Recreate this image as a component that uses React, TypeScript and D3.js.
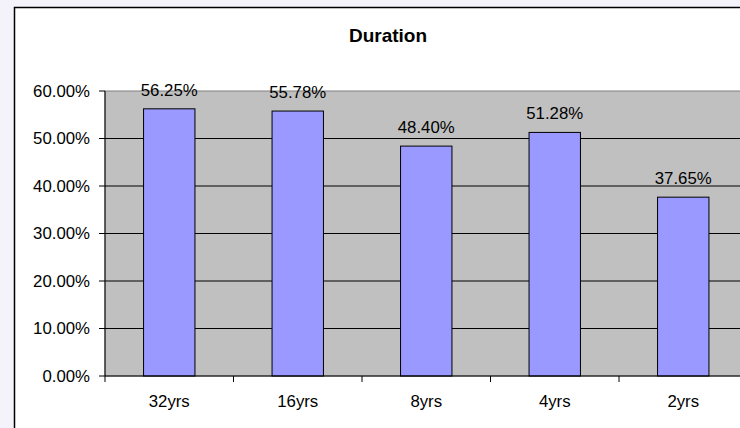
import React from "react";
import * as d3 from "d3";

const categories = ["32yrs", "16yrs", "8yrs", "4yrs", "2yrs"];
const values = [56.25, 55.78, 48.4, 51.28, 37.65];
const yTicks = [0, 10, 20, 30, 40, 50, 60];
const title = "Duration";

export default function App() {
  const W = 740, H = 428;
  const left = 105, top = 91, bottom = 376, right = 747.5;
  const x = d3.scaleBand<string>().domain(categories).range([left, right]).paddingInner(0).paddingOuter(0);
  const y = d3.scaleLinear().domain([0, 60]).range([bottom, top]);
  const barW = x.bandwidth() * 0.4;
  const font = "'Liberation Sans', Arial, sans-serif";
  const tickX = [...categories.map((c) => x(c)!), right];
  return (
    <svg width={W} height={H} style={{ position: "absolute", left: 0, top: 0 }} fontFamily={font}>
      <rect x={0} y={0} width={W} height={H} fill="#f4f3fb" />
      <rect x={14.5} y={7.5} width={W + 20} height={H + 20} fill="#ffffff" stroke="#000" strokeWidth={1.5} />
      <text x={388} y={42} textAnchor="middle" fontWeight="bold" fontSize={19}>{title}</text>
      <rect x={left} y={top} width={right - left} height={bottom - top} fill="#c0c0c0" stroke="#808080" strokeWidth={1} />
      {yTicks.map((t) => (
        <g key={t}>
          {t > 0 && t < 60 && (
            <line x1={left} x2={right} y1={y(t)} y2={y(t)} stroke="#000" strokeWidth={1} />
          )}
          <line x1={left - 6} x2={left} y1={y(t)} y2={y(t)} stroke="#000" strokeWidth={1} />
          <text x={90} y={y(t) + 5.5} textAnchor="end" fontSize={16.8}>{t.toFixed(2) + "%"}</text>
        </g>
      ))}
      {categories.map((c, i) => {
        const cx = x(c)! + x.bandwidth() / 2;
        return (
          <g key={c}>
            <rect x={cx - barW / 2} y={y(values[i])} width={barW} height={bottom - y(values[i])} fill="#9999ff" stroke="#000" strokeWidth={1} />
            <text x={cx} y={y(values[i]) - 13.3} textAnchor="middle" fontSize={16.8}>{values[i].toFixed(2) + "%"}</text>
            <text x={cx} y={407} textAnchor="middle" fontSize={16.8}>{c}</text>
          </g>
        );
      })}
      <line x1={left} x2={left} y1={top} y2={bottom} stroke="#000" strokeWidth={1} />
      <line x1={left} x2={right} y1={bottom} y2={bottom} stroke="#000" strokeWidth={1} />
      {tickX.map((tx, i) => (
        <line key={i} x1={tx} x2={tx} y1={bottom} y2={bottom + 6} stroke="#000" strokeWidth={1} />
      ))}
    </svg>
  );
}
